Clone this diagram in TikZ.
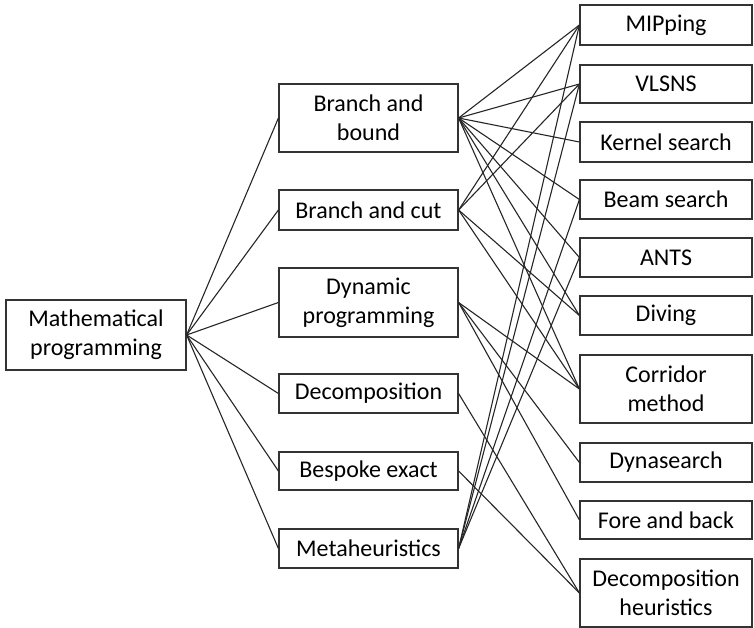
\documentclass[tikz,border=0pt]{standalone}
\usepackage{fontspec}
\setmainfont{Carlito}

\tikzstyle{box} = [draw=black!80, line width=1.2pt, align=center, inner sep=0pt, font=\fontsize{24}{29}\selectfont]
\tikzstyle{mid} = [box, minimum width=179pt]
\tikzstyle{meth} = [box, minimum width=172pt]
\tikzstyle{link} = [draw=black!85, line width=1.1pt]

\begin{document}
\begin{tikzpicture}[x=1pt,y=-1pt]
\useasboundingbox (0,0) rectangle (754,628);

% Left box
\node [box, minimum width=180pt, minimum height=70pt] (mp) at (96,335) {Mathematical\\programming};

% Middle column
\node [mid, minimum height=68pt] (bb) at (368.5,118) {Branch and\\bound};
\node [mid, minimum height=40pt] (bc) at (368.5,210) {Branch and cut};
\node [mid, minimum height=69pt] (dp) at (368.5,302.5) {Dynamic\\programming};
\node [mid, minimum height=39pt] (dec) at (368.5,393.5) {Decomposition};
\node [mid, minimum height=38pt] (bes) at (368.5,471) {Bespoke exact};
\node [mid, minimum height=39pt] (meta) at (368.5,548.5) {Metaheuristics};

% Right column
\node [meth, minimum height=40pt] (mip) at (666,25) {MIPping};
\node [meth, minimum height=38pt] (vlsns) at (666,84) {VLSNS};
\node [meth, minimum height=40pt] (kern) at (666,142) {Kernel search};
\node [meth, minimum height=39pt] (beam) at (666,199.5) {Beam search};
\node [meth, minimum height=39pt] (ants) at (666,257.5) {ANTS};
\node [meth, minimum height=39pt] (div) at (666,315.5) {Diving};
\node [meth, minimum height=68pt] (corr) at (666,389) {Corridor\\method};
\node [meth, minimum height=39pt] (dyna) at (666,462.5) {Dynasearch};
\node [meth, minimum height=38pt] (fb) at (666,520) {Fore and back};
\node [meth, minimum height=68pt] (dh) at (666,593) {Decomposition\\heuristics};

% Left to middle
\draw [link] (mp.east) -- (bb.west);
\draw [link] (mp.east) -- (bc.west);
\draw [link] (mp.east) -- (dp.west);
\draw [link] (mp.east) -- (dec.west);
\draw [link] (mp.east) -- (bes.west);
\draw [link] (mp.east) -- (meta.west);

% Branch and bound
\draw [link] (bb.east) -- (mip.west);
\draw [link] (bb.east) -- (vlsns.west);
\draw [link] (bb.east) -- (kern.west);
\draw [link] (bb.east) -- (beam.west);
\draw [link] (bb.east) -- (ants.west);
\draw [link] (bb.east) -- (div.west);
\draw [link] (bb.east) -- (corr.west);

% Branch and cut
\draw [link] (bc.east) -- (mip.west);
\draw [link] (bc.east) -- (vlsns.west);
\draw [link] (bc.east) -- (div.west);
\draw [link] (bc.east) -- (corr.west);

% Dynamic programming
\draw [link] (dp.east) -- (corr.west);
\draw [link] (dp.east) -- (dyna.west);
\draw [link] (dp.east) -- (fb.west);

% Decomposition and bespoke
\draw [link] (dec.east) -- (dh.west);
\draw [link] (bes.east) -- (dh.west);

% Metaheuristics
\draw [link] (meta.east) -- (mip.west);
\draw [link] (meta.east) -- (vlsns.west);
\draw [link] (meta.east) -- (beam.west);
\draw [link] (meta.east) -- (ants.west);

\end{tikzpicture}
\end{document}
